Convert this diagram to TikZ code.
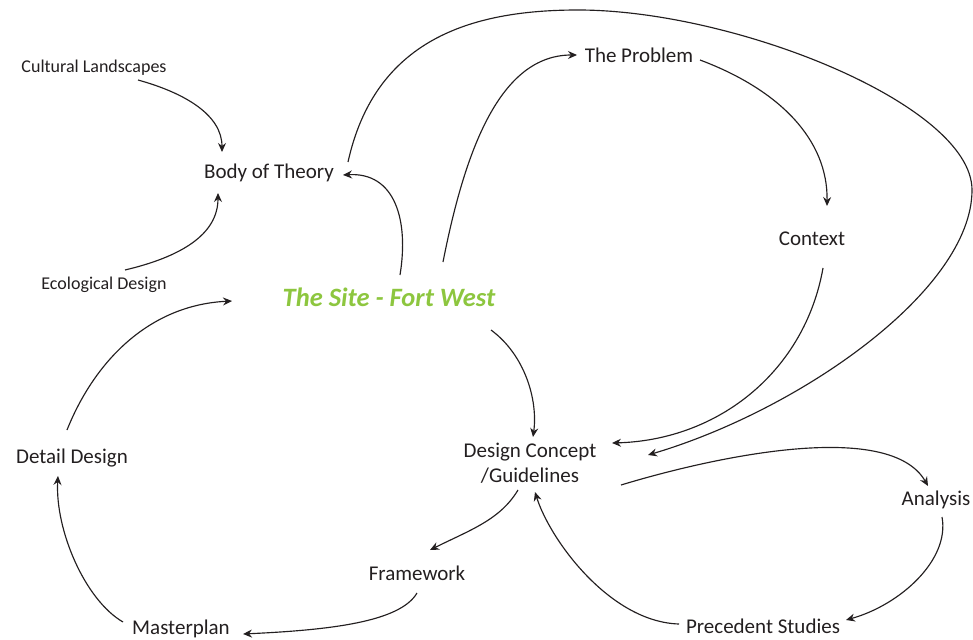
\documentclass[tikz,border=0pt]{standalone}
\usepackage{fontspec}
\setmainfont{Carlito}
\usetikzlibrary{arrows.meta}
\definecolor{ink}{RGB}{35,31,32}
\definecolor{sitegreen}{RGB}{141,198,63}
\tikzset{
  lbl/.style={inner sep=0pt, text=ink, font=\fontsize{21}{25}\selectfont, align=center},
  small/.style={inner sep=0pt, text=ink, font=\fontsize{18}{21}\selectfont},
  site/.style={inner sep=0pt, text=sitegreen, font=\fontsize{26.5}{30}\selectfont\bfseries\itshape},
  conn/.style={draw=ink, line width=1.15pt, -{Stealth[length=9pt,width=8pt,inset=3pt]}},
}
\begin{document}
\begin{tikzpicture}[x=1pt,y=-1pt]
\useasboundingbox (0,0) rectangle (973,639);
\node[small] (cult) at (94,68) {Cultural Landscapes};
\node[lbl] (bot) at (269,173) {Body of Theory};
\node[small] (eco) at (104,285) {Ecological Design};
\node[site] (site) at (389,297) {The Site - Fort West};
\node[lbl] (prob) at (639,55) {The Problem};
\node[lbl] (ctx) at (812,239) {Context};
\node[lbl] (dc) at (530,463) {Design Concept\\/Guidelines};
\node[lbl] (anal) at (936,500) {Analysis};
\node[lbl] (dd) at (72,458) {Detail Design};
\node[lbl] (fw) at (417,573) {Framework};
\node[lbl] (mp) at (181,629) {Masterplan};
\node[lbl] (prec) at (763,626) {Precedent Studies};

% Cultural Landscapes -> Body of Theory
\draw[conn] ([shift={(44,12)}]cult.center) .. controls (185,93) and (222,115) .. ([shift={(-47,-21)}]bot.center);
% Ecological Design -> Body of Theory
\draw[conn] ([shift={(21,-15)}]eco.center) .. controls (180,257) and (218,235) .. ([shift={(-51,20)}]bot.center);
% Site -> Body of Theory
\draw[conn] ([shift={(11,-22)}]site.center) .. controls (409,220) and (395,172) .. ([shift={(74,2)}]bot.center);
% Site -> The Problem
\draw[conn] ([shift={(54,-35)}]site.center) .. controls (465,150) and (500,55) .. ([shift={(-62,0)}]prob.center);
% The Problem -> Context
\draw[conn] ([shift={(61,5)}]prob.center) .. controls (780,90) and (828,140) .. ([shift={(15,-33)}]ctx.center);
% Context -> Design Concept
\draw[conn] ([shift={(11,29)}]ctx.center) .. controls (805,370) and (720,440) .. ([shift={(82,-20)}]dc.center);
% Body of Theory -> Design Concept (big arc)
\draw[conn] ([shift={(79,-11)}]bot.center) .. controls (375,40) and (470,10) .. (578,10)
   .. controls (735,10) and (972,105) .. (972,190)
   .. controls (972,290) and (800,410) .. ([shift={(118,-8)}]dc.center);
% Site -> Design Concept
\draw[conn] ([shift={(102,33)}]site.center) .. controls (525,355) and (538,400) .. ([shift={(3,-26)}]dc.center);
% Design Concept -> Analysis
\draw[conn] ([shift={(91,22)}]dc.center) .. controls (720,455) and (890,420) .. ([shift={(-8,-14)}]anal.center);
% Analysis -> Precedent Studies
\draw[conn] ([shift={(6,17)}]anal.center) .. controls (950,560) and (900,605) .. ([shift={(83,-6)}]prec.center);
% Precedent Studies -> Design Concept
\draw[conn] ([shift={(-84,-2)}]prec.center) .. controls (610,622) and (550,540) .. ([shift={(5,29)}]dc.center);
% Design Concept -> Framework
\draw[conn] ([shift={(-12,27)}]dc.center) .. controls (500,520) and (470,530) .. ([shift={(13,-23)}]fw.center);
% Framework -> Masterplan
\draw[conn] ([shift={(0,20)}]fw.center) .. controls (400,622) and (330,630) .. ([shift={(62,5)}]mp.center);
% Masterplan -> Detail Design
\draw[conn] ([shift={(-58,-7)}]mp.center) .. controls (85,600) and (55,530) .. ([shift={(-14,18)}]dd.center);
% Detail Design -> Site
\draw[conn] ([shift={(-5,-28)}]dd.center) .. controls (95,360) and (150,305) .. ([shift={(-157,4)}]site.center);
\end{tikzpicture}
\end{document}
